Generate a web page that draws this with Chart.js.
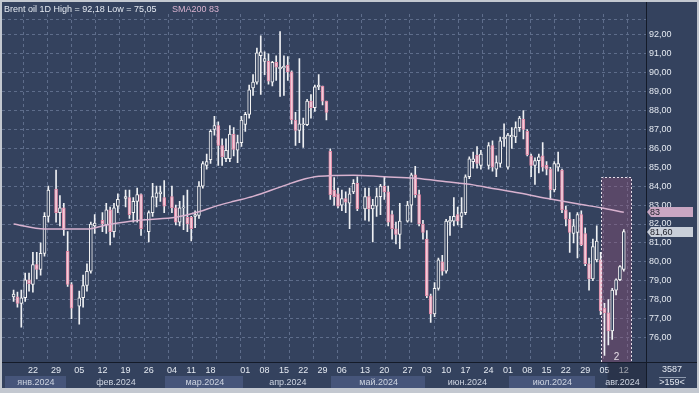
<!DOCTYPE html>
<html lang="ru">
<head>
    <meta charset="UTF-8">
    <title>Brent oil 1D</title>
    <script src="https://cdn.jsdelivr.net/npm/chart.js"></script>
    <style>
        html, body { margin: 0; padding: 0; background: #c3c8d0; }
        #brentChart { display: block; }
    </style>
</head>
<body>
    <canvas id="brentChart" width="699" height="393"></canvas>

    <script>
        // one slot per bar; weekend slots carry no bar (null)
        const dates = [
            '15.01','16.01','17.01','18.01','19.01','22.01','23.01','24.01','25.01','26.01','28.01',
            '29.01','30.01','31.01','01.02','02.02','04.02','05.02','06.02','07.02','08.02','09.02','11.02',
            '12.02','13.02','14.02','15.02','16.02','18.02','19.02','20.02','21.02','22.02','23.02','25.02',
            '26.02','27.02','28.02','29.02','01.03','03.03','04.03','05.03','06.03','07.03','08.03',
            '11.03','12.03','13.03','14.03','15.03','18.03','19.03','20.03','21.03','22.03',
            '25.03','26.03','27.03','28.03','01.04','02.04','03.04','04.04','05.04',
            '08.04','09.04','10.04','11.04','12.04','15.04','16.04','17.04','18.04','19.04',
            '22.04','23.04','24.04','25.04','26.04','29.04','30.04','01.05','02.05','03.05',
            '06.05','07.05','08.05','09.05','10.05','12.05','13.05','14.05','15.05','16.05','17.05',
            '20.05','21.05','22.05','23.05','24.05','26.05','27.05','28.05','29.05','30.05','31.05',
            '03.06','04.06','05.06','06.06','07.06','10.06','11.06','12.06','13.06','14.06',
            '17.06','18.06','19.06','20.06','21.06','23.06','24.06','25.06','26.06','27.06','28.06',
            '01.07','02.07','03.07','04.07','05.07','08.07','09.07','10.07','11.07','12.07',
            '15.07','16.07','17.07','18.07','19.07','22.07','23.07','24.07','25.07','26.07',
            '29.07','30.07','31.07','01.08','02.08','05.08','06.08','07.08','08.08','09.08','12.08'
        ];

        const opens = [
            78.15, 78.15, 77.8, 78.1, 79.05, 78.8, 79.85, 79.6, 80.45, 82.4, null,
            83.85, 82.6, 82.85, 80.55, 78.8, null, 77.65, 78.1, 78.75, 79.5, 81.9, null,
            82.2, 81.95, 82.75, 81.6, 82.95, null, 83.35, 83.4, 82.6, 83.2, 83.55, null,
            81.6, 82.6, 83.4, 83.6, 83.4, null, 83.45, 82.85, 82.1, 82.85, 82.35,
            82.35, 82.4, 82.45, 84.0, 85.1, 85.4, 87.0, 87.2, 86.15, 85.45,
            85.45, 86.75, 85.9, 86.3, 87.27, 87.8, 89.2, 89.5, 90.9,
            90.6, 90.6, 89.5, 90.55, 90.2, 90.25, 90.4, 90.05, 87.5, 86.95,
            87.25, 87.25, 88.5, 88.15, 89.25, 89.3, 88.5, 85.85, 83.8, 83.6,
            83.0, 83.35, 83.1, 83.7, 84.15, null, 82.8, 83.45, 82.8, 82.95, 83.45,
            84.0, 83.7, 82.5, 81.75, 81.45, null, 82.15, 83.0, 84.6, 83.55, 82.0,
            81.2, 78.2, 77.25, 78.6, 80.0, 79.5, 82.1, 82.15, 82.5, 82.4,
            82.6, 84.5, 85.3, 85.65, 85.1, null, 85.1, 86.15, 84.9, 85.2, 86.5,
            85.0, 86.6, 86.6, 87.1, 87.55, 86.9, 85.6, 85.1, 85.35, 85.6,
            85.1, 84.9, 83.8, 85.0, 84.85, 82.75, 82.25, 81.5, 81.55, 82.5,
            81.5, 79.9, 79.1, 80.1, 80.1, 77.55, 77.3, 76.35, 78.5, 79.05, 79.6
        ];
        const highs = [
            78.5, 78.4, 78.5, 79.4, 79.4, 80.5, 80.5, 81.0, 82.6, 84.0, null,
            84.85, 83.5, 83.1, 81.6, 78.9, null, 78.45, 79.3, 79.9, 82.1, 82.5, null,
            82.6, 83.1, 82.9, 83.1, 83.6, null, 83.8, 83.8, 83.4, 83.9, 83.6, null,
            82.7, 84.15, 84.0, 84.0, 84.3, null, 84.0, 83.0, 83.2, 83.5, 83.8,
            82.4, 82.7, 84.25, 85.3, 85.7, 87.0, 87.7, 87.4, 86.5, 86.5,
            87.2, 87.1, 86.7, 87.7, 87.9, 89.35, 89.9, 91.3, 91.95,
            91.1, 91.0, 90.6, 90.9, 92.18, 90.9, 90.85, 90.1, 87.9, 90.75,
            87.6, 88.6, 88.85, 89.35, 89.9, 89.3, 88.5, 85.97, 84.45, 83.9,
            83.8, 83.7, 83.9, 84.35, 84.5, null, 83.9, 83.9, 83.3, 83.9, 84.1,
            84.5, 84.0, 82.7, 82.1, 83.1, null, 83.2, 84.7, 85.05, 83.8, 82.2,
            81.65, 78.3, 78.9, 80.2, 80.35, 82.25, 82.4, 83.4, 82.9, 83.4,
            84.6, 85.55, 85.8, 86.1, 85.9, null, 86.3, 86.4, 85.6, 86.6, 87.3,
            86.8, 87.1, 87.4, 87.7, 88.0, 87.0, 85.7, 85.5, 85.7, 86.3,
            85.3, 85.0, 85.3, 85.8, 84.9, 82.95, 82.6, 82.25, 82.6, 82.7,
            81.8, 80.2, 81.2, 81.9, 80.5, 77.8, 78.0, 78.6, 79.1, 79.8, 81.7
        ];
        const lows = [
            77.9, 77.6, 76.55, 77.9, 78.45, 78.4, 79.1, 79.3, 80.3, 82.1, null,
            82.1, 81.9, 81.4, 78.7, 77.0, null, 76.7, 77.6, 78.45, 79.4, 81.5, null,
            81.6, 81.5, 80.9, 81.3, 82.6, null, 82.9, 82.3, 82.1, 82.1, 81.4, null,
            81.05, 82.4, 82.9, 83.2, 82.6, null, 82.6, 81.95, 81.9, 81.7, 81.6,
            81.1, 81.8, 82.3, 83.9, 84.9, 85.2, 86.7, 85.1, 85.1, 85.3,
            85.3, 85.6, 85.25, 86.1, 86.9, 87.6, 88.8, 89.4, 88.85,
            89.9, 89.4, 89.3, 89.6, 88.75, 88.8, 89.6, 87.3, 86.15, 86.3,
            86.05, 87.2, 87.6, 87.95, 89.1, 88.3, 87.5, 83.3, 83.0, 82.85,
            82.7, 82.6, 81.75, 83.6, 82.7, null, 82.2, 82.15, 81.05, 82.4, 82.5,
            83.3, 81.9, 81.2, 80.95, 80.7, null, 82.1, 82.1, 83.4, 81.9, 81.2,
            78.1, 76.8, 77.1, 78.5, 79.3, 79.4, 81.4, 81.9, 81.95, 81.8,
            82.5, 84.4, 84.95, 84.95, 84.9, null, 84.9, 84.8, 84.5, 85.0, 86.1,
            84.9, 86.0, 86.3, 86.9, 86.5, 85.6, 84.5, 84.1, 84.7, 84.8,
            84.6, 83.3, 83.7, 84.8, 82.6, 81.9, 80.5, 81.0, 80.2, 80.85,
            79.8, 78.5, 79.0, 80.0, 77.2, 75.05, 75.6, 75.9, 78.25, 79.0, 79.5
        ];
        const closes = [
            78.3, 77.8, 78.1, 79.05, 78.85, 79.85, 79.6, 80.45, 82.4, 83.8, null,
            82.6, 82.85, 81.7, 78.8, 77.55, null, 78.1, 78.75, 79.5, 82.0, 82.05, null,
            82.0, 82.75, 81.6, 82.85, 83.3, null, 83.45, 82.5, 83.2, 83.55, 81.75, null,
            82.6, 83.45, 83.65, 83.7, 82.95, null, 82.85, 82.1, 82.85, 82.9, 82.0,
            81.75, 82.5, 84.0, 85.2, 85.3, 86.9, 87.2, 86.15, 85.55, 85.9,
            86.75, 85.95, 86.3, 87.5, 87.8, 89.1, 89.5, 91.05, 91.1,
            90.75, 89.55, 90.55, 90.3, 90.3, 90.35, 90.05, 87.5, 86.95, 87.3,
            87.3, 88.5, 88.15, 89.25, 89.35, 88.5, 87.9, 83.55, 83.45, 82.95,
            83.35, 83.15, 83.6, 84.15, 82.8, null, 83.45, 82.8, 83.0, 83.45, 84.0,
            83.7, 82.1, 81.75, 81.45, 82.15, null, 83.0, 84.6, 83.55, 82.0, 81.55,
            78.2, 77.25, 78.6, 80.1, 79.5, 82.15, 82.2, 82.4, 82.15, 82.6,
            84.5, 85.45, 85.45, 85.2, 85.7, null, 86.15, 85.0, 85.25, 86.4, 86.6,
            86.7, 86.7, 87.1, 87.6, 87.0, 85.65, 85.1, 85.35, 85.55, 85.0,
            84.9, 83.8, 85.2, 85.2, 82.75, 82.25, 81.55, 81.9, 82.5, 80.9,
            79.9, 79.1, 80.8, 81.1, 77.4, 77.3, 76.35, 78.5, 79.05, 79.75, 81.6
        ];

        // SMA200 at a few slots
        const smaIdx = [0, 8, 19, 24, 27, 34, 42, 48, 52, 57, 62, 69, 74, 79, 88, 96, 104, 112, 119, 123, 131, 139, 147, 152, 158];
        const smaVal = [82.0, 81.73, 81.73, 81.95, 82.05, 82.22, 82.36, 82.65, 82.92, 83.2, 83.46, 83.95, 84.3, 84.52, 84.58, 84.5, 84.42, 84.24, 84.07, 83.92, 83.64, 83.32, 83.03, 82.86, 82.62];

        const weekTicks = ['22.01','29.01','05.02','12.02','19.02','26.02','04.03','11.03','18.03','01.04','08.04','15.04','22.04','29.04',
            '06.05','13.05','20.05','27.05','03.06','10.06','17.06','24.06','01.07','08.07','15.07','22.07','29.07','05.08','12.08'];
        const monthNames = ['янв.2024','фев.2024','мар.2024','апр.2024','май.2024','июн.2024','июл.2024','авг.2024'];
        const monthStarts = ['15.01','01.02','01.03','01.04','01.05','03.06','01.07','01.08'];
        const priceTicks = [76, 77, 78, 79, 80, 81, 82, 83, 84, 85, 86, 87, 88, 89, 90, 91, 92];

        // highlighted box at the right edge
        const boxFrom = '02.08';
        const boxTo = 159.8;
        const boxTop = 84.5;
        const boxLabel = '2';
        const barsVisible = 159;
        const counterTop = 3587;

        const FONT = "'Liberation Sans', Arial, sans-serif";
        const bgColor = '#34425e';
        const frameColor = '#c3c8d0';
        const gridColor = '#5e6d8b';
        const textColor = '#e4e9f1';
        const smaColor = '#d8b2cf';
        const upBorder = '#f3f3f3';
        const downBorder = '#df87a4';
        const downFill = '#f2ccd9';
        const headerBottom = 19;   // header strip above the grid

        const comma = (v, d) => v.toFixed(d).replace('.', ',');

        const bodies = [];
        const wicks = [];
        dates.forEach((d, i) => {
            if (opens[i] == null) return;
            bodies.push({ x: i, y: [opens[i], closes[i]] });
            wicks.push({ x: i, y: [lows[i], highs[i]] });
        });
        const isUp = (i) => closes[i] >= opens[i];

        const frame = {
            id: 'frame',
            beforeDraw(chart) {
                const { ctx, chartArea: a, scales: { x } } = chart;
                ctx.save();
                ctx.fillStyle = frameColor;
                ctx.fillRect(0, 0, chart.width, chart.height);
                ctx.fillStyle = bgColor;
                ctx.fillRect(2, 2, chart.width - 4, chart.height - 7);

                // month bands under the day numbers
                monthStarts.forEach((d, k) => {
                    const from = k === 0 ? a.left : x.getPixelForValue(dates.indexOf(d) - 0.5);
                    const to = k === monthStarts.length - 1 ? a.right : x.getPixelForValue(dates.indexOf(monthStarts[k + 1]) - 0.5);
                    if (k % 2 === 0) {
                        ctx.fillStyle = '#46557a';
                        ctx.fillRect(Math.round(from) + 3, 376, Math.round(to - from) - 3, 12);
                    }
                });

                // dashed grid: header line and verticals
                ctx.strokeStyle = gridColor;
                ctx.lineWidth = 1;
                ctx.setLineDash([3, 3]);
                ctx.beginPath();
                ctx.moveTo(a.left, headerBottom + 0.5);
                ctx.lineTo(a.right, headerBottom + 0.5);
                for (let px = 22.7; px < a.right - 4; px += 24.17) {
                    const xx = Math.round(px) + 0.5;
                    ctx.moveTo(xx, headerBottom - 5);
                    ctx.lineTo(xx, a.bottom);
                }
                ctx.stroke();
                ctx.restore();
            },
            beforeDatasetsDraw(chart) {
                const { ctx, chartArea: a, scales: { x, y } } = chart;
                const x1 = Math.round(x.getPixelForValue(dates.indexOf(boxFrom))) + 0.5;
                const x2 = Math.round(x.getPixelForValue(boxTo)) + 0.5;
                const y1 = Math.round(y.getPixelForValue(boxTop)) + 0.5;
                ctx.save();
                ctx.fillStyle = 'rgba(150, 85, 120, 0.38)';
                ctx.fillRect(x1, y1, x2 - x1, a.bottom - y1);
                ctx.restore();
            },
            afterDraw(chart) {
                const { ctx, chartArea: a, scales: { x, y } } = chart;
                ctx.save();

                // highlight outline and its label
                const x1 = Math.round(x.getPixelForValue(dates.indexOf(boxFrom))) + 0.5;
                const x2 = Math.round(x.getPixelForValue(boxTo)) + 0.5;
                const y1 = Math.round(y.getPixelForValue(boxTop)) + 0.5;
                ctx.strokeStyle = '#e8e0ea';
                ctx.setLineDash([2, 2]);
                ctx.beginPath();
                ctx.moveTo(x1, a.bottom);
                ctx.lineTo(x1, y1);
                ctx.lineTo(x2, y1);
                ctx.lineTo(x2, a.bottom);
                ctx.stroke();
                ctx.setLineDash([]);
                ctx.font = '10px ' + FONT;
                ctx.fillStyle = '#e6dde6';
                ctx.textAlign = 'center';
                ctx.textBaseline = 'alphabetic';
                ctx.fillText(boxLabel, (x1 + x2) / 2, a.bottom - 2);
                ctx.fillStyle = 'rgba(25, 25, 40, 0.35)';
                ctx.fillRect(x1 + 6, a.bottom + 1, a.right - x1 - 6, 25);

                // separators
                ctx.strokeStyle = '#141b29';
                ctx.lineWidth = 1;
                ctx.beginPath();
                ctx.moveTo(a.right + 0.5, 2);
                ctx.lineTo(a.right + 0.5, chart.height - 5);
                ctx.moveTo(2, a.bottom + 0.5);
                ctx.lineTo(chart.width - 2, a.bottom + 0.5);
                ctx.stroke();

                // month names
                ctx.font = '9px ' + FONT;
                ctx.fillStyle = '#cdd4e1';
                ctx.textAlign = 'center';
                ctx.textBaseline = 'middle';
                monthStarts.forEach((d, k) => {
                    const from = k === 0 ? a.left : x.getPixelForValue(dates.indexOf(d) - 0.5);
                    const to = k === monthStarts.length - 1 ? a.right : x.getPixelForValue(dates.indexOf(monthStarts[k + 1]) - 0.5);
                    ctx.fillText(monthNames[k], (from + to) / 2 + 2, 382.5);
                });

                // corner box
                ctx.fillStyle = textColor;
                ctx.fillText(String(counterTop), 672, 370);
                ctx.fillText('>' + barsVisible + '<', 672, 383);
                ctx.strokeStyle = '#8d99ad';
                ctx.beginPath();
                ctx.moveTo(659, 377.5);
                ctx.lineTo(686, 377.5);
                ctx.stroke();

                // price tags on the axis
                const tag = (value, text, fill) => {
                    const yc = Math.round(y.getPixelForValue(value));
                    ctx.fillStyle = fill;
                    ctx.beginPath();
                    ctx.moveTo(a.right + 1, yc);
                    ctx.lineTo(a.right + 5, yc - 5);
                    ctx.lineTo(693, yc - 5);
                    ctx.lineTo(693, yc + 5);
                    ctx.lineTo(a.right + 5, yc + 5);
                    ctx.closePath();
                    ctx.fill();
                    ctx.fillStyle = '#20232d';
                    ctx.textAlign = 'left';
                    ctx.font = '9px ' + FONT;
                    ctx.fillText(text, a.right + 4, yc + 0.5);
                };
                const smaLast = smaVal[smaVal.length - 1];
                const lastClose = closes[closes.length - 1];
                tag(smaLast, String(Math.round(smaLast)), '#c9a6c2');
                tag(lastClose, comma(lastClose, 2), '#c9cfd9');

                // header line
                const hi = Math.max(...highs.filter(v => v != null));
                const lo = Math.min(...lows.filter(v => v != null));
                ctx.textAlign = 'left';
                ctx.textBaseline = 'alphabetic';
                ctx.font = '9px ' + FONT;
                ctx.fillStyle = textColor;
                ctx.fillText('Brent oil 1D High = ' + comma(hi, 2) + ' Low = ' + comma(lo, 2), 4, 12);
                ctx.fillStyle = smaColor;
                ctx.fillText('SMA200 ' + Math.round(smaLast), 172, 12);
                ctx.restore();
            }
        };

        const brentChart = new Chart(document.getElementById('brentChart'), {
            data: {
                datasets: [
                    {
                        type: 'line',
                        label: 'SMA200',
                        data: smaIdx.map((s, i) => ({ x: s, y: smaVal[i] })),
                        borderColor: smaColor,
                        borderWidth: 1.5,
                        pointRadius: 0,
                        cubicInterpolationMode: 'monotone',
                        order: 0
                    },
                    {
                        type: 'bar',
                        label: 'body',
                        data: bodies,
                        backgroundColor: c => isUp(c.raw.x) ? bgColor : downFill,
                        borderColor: c => isUp(c.raw.x) ? upBorder : downBorder,
                        borderWidth: 1,
                        borderSkipped: false,
                        barThickness: 3,
                        minBarLength: 1,
                        grouped: false,
                        order: 1
                    },
                    {
                        type: 'bar',
                        label: 'wick',
                        data: wicks,
                        backgroundColor: '#eef0f3',
                        barThickness: 1,
                        grouped: false,
                        order: 2
                    }
                ]
            },
            options: {
                responsive: false,
                animation: false,
                devicePixelRatio: 1,
                layout: { padding: { left: 2, top: 2, right: 2, bottom: 5 } },
                plugins: { legend: { display: false }, tooltip: { enabled: false } },
                scales: {
                    x: {
                        type: 'linear',
                        min: -0.125,
                        max: 160.875,
                        afterBuildTicks: s => { s.ticks = weekTicks.map(d => ({ value: dates.indexOf(d) })); },
                        afterFit: s => { s.height = 26; },
                        grid: { display: false, drawTicks: false },
                        border: { display: false },
                        ticks: {
                            autoSkip: false,
                            maxRotation: 0,
                            padding: 3,
                            color: textColor,
                            font: { family: FONT, size: 9 },
                            callback: v => dates[v] ? dates[v].slice(0, 2) : ''
                        }
                    },
                    y: {
                        position: 'right',
                        min: 74.702,
                        max: 93.403,
                        afterBuildTicks: s => { s.ticks = priceTicks.map(v => ({ value: v })); },
                        afterFit: s => { s.width = 51; },
                        grid: { color: gridColor, drawTicks: false },
                        border: { display: false, dash: [3, 3] },
                        ticks: {
                            padding: 3,
                            color: textColor,
                            font: { family: FONT, size: 9 },
                            callback: v => comma(v, 2)
                        }
                    }
                }
            },
            plugins: [frame]
        });
    </script>
</body>
</html>
